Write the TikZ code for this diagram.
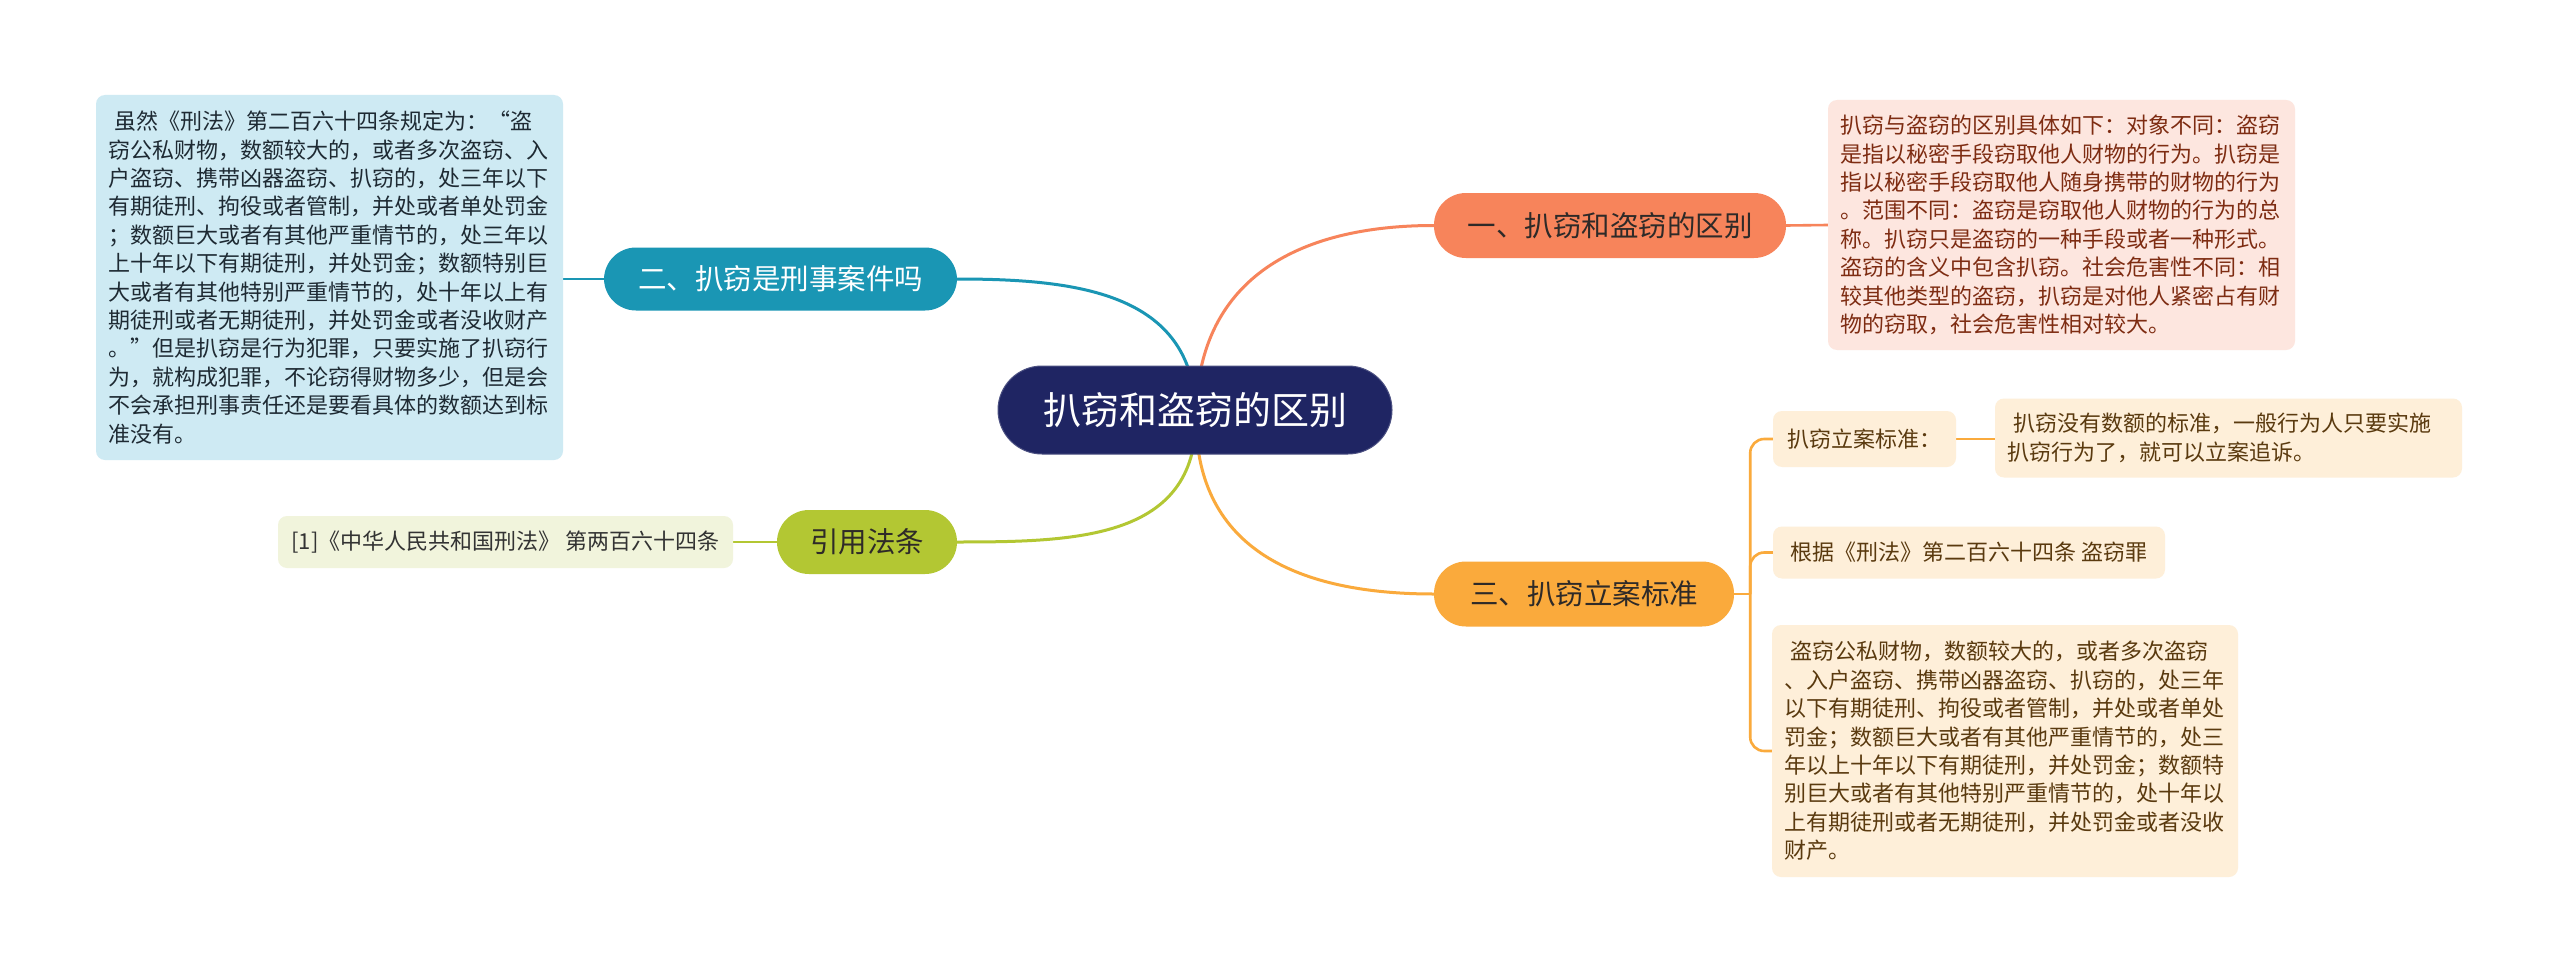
\documentclass[tikz,border=0pt]{standalone}
\usepackage{fontspec}
\setmainfont{Noto Sans CJK SC}
\usetikzlibrary{backgrounds}
\definecolor{navy}{HTML}{1F2563}
\definecolor{orA}{HTML}{F7845B}
\definecolor{teal}{HTML}{1A96B4}
\definecolor{lime}{HTML}{B3C733}
\definecolor{orB}{HTML}{FAAA3C}
\definecolor{fillA}{HTML}{FDE6DF}
\definecolor{fillT}{HTML}{CEEAF3}
\definecolor{fillL}{HTML}{F1F4DC}
\definecolor{fillB}{HTML}{FEEFD9}
\definecolor{txtA}{HTML}{7E2C12}
\definecolor{txtT}{HTML}{1E2A33}
\definecolor{txtL}{HTML}{333333}
\definecolor{txtB}{HTML}{5A3A0F}
\definecolor{txtD}{HTML}{2E2A28}
\begin{document}
\begin{tikzpicture}[x=1pt,y=-1pt,
  rootbox/.style={fill=navy, draw=navy!80!white, line width=1pt, rounded corners=44pt, minimum width=394pt, minimum height=88pt, inner sep=0pt, text=white, font=\fontsize{38}{44}\selectfont},
  branch/.style={rounded corners=32pt, minimum height=65pt, inner sep=0pt, font=\fontsize{28.5}{34}\selectfont},
  detail/.style={rounded corners=9pt, inner xsep=12pt, inner ysep=0pt, align=left, font=\fontsize{22}{28.4}\selectfont},
  small/.style={rounded corners=9pt, inner sep=0pt, align=center, font=\fontsize{22}{28.4}\selectfont},
  curve/.style={line width=3pt, looseness=1.15},
  link/.style={line width=2.6pt},
]
\useasboundingbox (0,0) rectangle (2560,971);

% root
\node[rootbox] (root) at (1195,410) {扒窃和盗窃的区别};
\coordinate (hub) at (1196,418);

% branch 1
\node[branch, fill=orA, text=txtD, minimum width=352pt] (b1) at (1610,225.5) {一、扒窃和盗窃的区别};
\node[detail, fill=fillA, text=txtA, text width=443pt, minimum height=250pt] (d1) at (2061.5,225) {%
扒窃与盗窃的区别具体如下：对象不同：盗窃\\
是指以秘密手段窃取他人财物的行为。扒窃是\\
指以秘密手段窃取他人随身携带的财物的行为\\
。范围不同：盗窃是窃取他人财物的行为的总\\
称。扒窃只是盗窃的一种手段或者一种形式。\\
盗窃的含义中包含扒窃。社会危害性不同：相\\
较其他类型的盗窃，扒窃是对他人紧密占有财\\
物的窃取，社会危害性相对较大。};

% branch 2
\node[branch, fill=teal, text=white, minimum width=353pt, minimum height=63pt] (b2) at (780.5,279) {二、扒窃是刑事案件吗};
\node[detail, fill=fillT, text=txtT, text width=443pt, minimum height=365pt] (d2) at (329.5,277.5) {%
\hspace*{6pt}虽然《刑法》第二百六十四条规定为：“盗\\
窃公私财物，数额较大的，或者多次盗窃、入\\
户盗窃、携带凶器盗窃、扒窃的，处三年以下\\
有期徒刑、拘役或者管制，并处或者单处罚金\\
；数额巨大或者有其他严重情节的，处三年以\\
上十年以下有期徒刑，并处罚金；数额特别巨\\
大或者有其他特别严重情节的，处十年以上有\\
期徒刑或者无期徒刑，并处罚金或者没收财产\\
。”但是扒窃是行为犯罪，只要实施了扒窃行\\
为，就构成犯罪，不论窃得财物多少，但是会\\
不会承担刑事责任还是要看具体的数额达到标\\
准没有。};

% branch 3 (left, lime)
\node[branch, fill=lime, text=txtD, minimum width=180pt, minimum height=64pt] (b3) at (867,542) {引用法条};
\node[small, fill=fillL, text=txtL, minimum width=455pt, minimum height=52pt] (d3) at (505.5,542) {[1]《中华人民共和国刑法》 第两百六十四条};

% branch 4 (right, orange)
\node[branch, fill=orB, text=txtD, minimum width=300pt] (b4) at (1584,594) {三、扒窃立案标准};
\node[small, fill=fillB, text=txtB, minimum width=183pt, minimum height=56pt] (c1) at (1864.5,439) {扒窃立案标准：};
\node[detail, fill=fillB, text=txtB, text width=443pt, minimum height=79pt] (c1a) at (2228.5,438) {%
\hspace*{6pt}扒窃没有数额的标准，一般行为人只要实施\\
扒窃行为了，就可以立案追诉。};
\node[small, fill=fillB, text=txtB, minimum width=392pt, minimum height=52pt] (c2) at (1969,552.5) {根据《刑法》第二百六十四条 盗窃罪};
\node[detail, fill=fillB, text=txtB, text width=442pt, minimum height=252pt] (c3) at (2005,751) {%
\hspace*{6pt}盗窃公私财物，数额较大的，或者多次盗窃\\
、入户盗窃、携带凶器盗窃、扒窃的，处三年\\
以下有期徒刑、拘役或者管制，并处或者单处\\
罚金；数额巨大或者有其他严重情节的，处三\\
年以上十年以下有期徒刑，并处罚金；数额特\\
别巨大或者有其他特别严重情节的，处十年以\\
上有期徒刑或者无期徒刑，并处罚金或者没收\\
财产。};

\begin{scope}[on background layer]
  \fill[white] (0,0) rectangle (2560,971);
  \draw[curve, draw=orA] (hub) to[out=90,in=180] (b1.west);
  \draw[curve, draw=teal] (hub) to[out=90,in=0] (b2.east);
  \draw[curve, draw=lime] (hub) to[out=-90,in=0] (b3.east);
  \draw[curve, draw=orB] (hub) to[out=-90,in=180] (b4.west);
  \draw[link, draw=orA] (b1.east) -- (d1.west);
  \draw[link, draw=teal] (b2.west) -- (d2.east |- b2.west);
  \draw[link, draw=lime] (b3.west) -- (d3.east);
  \draw[link, draw=orB] (b4.east) -- ++(16,0) coordinate (trunk);
  \draw[link, draw=orB, rounded corners=14pt] (trunk) |- (c1.west);
  \draw[link, draw=orB, rounded corners=14pt] (trunk) |- (c2.west);
  \draw[link, draw=orB, rounded corners=14pt] (trunk) |- (c3.west);
  \draw[link, draw=orB] (c1.east) -- (c1a.west |- c1.east);
\end{scope}
\end{tikzpicture}
\end{document}
